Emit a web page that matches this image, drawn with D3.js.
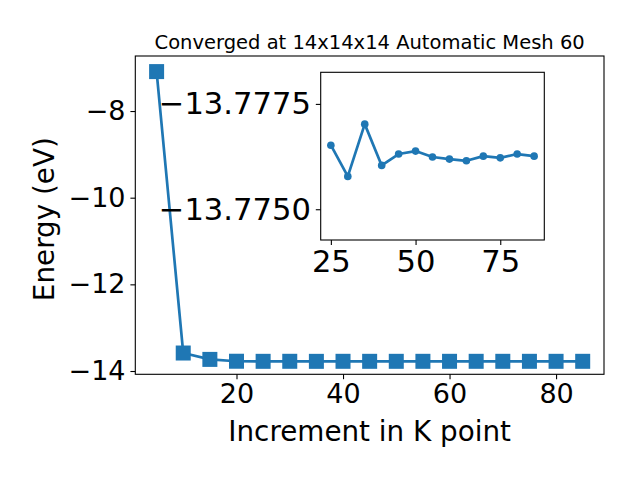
<!DOCTYPE html>
<html>
<head>
<meta charset="utf-8">
<script src="https://cdn.jsdelivr.net/npm/d3@7"></script>
<style>
  html, body { margin: 0; padding: 0; background: #fff; }
  text { font-family: "DejaVu Sans", sans-serif; fill: #000; }
</style>
</head>
<body>
<svg id="chart" width="640" height="480"></svg>
<script>
// ---- data ----
const kPoints = [5, 10, 15, 20, 25, 30, 35, 40, 45, 50, 55, 60, 65, 70, 75, 80, 85];
const energies = [-7.09, -13.585, -13.732, -13.7745,
  -13.77652, -13.77578, -13.77702, -13.77604, -13.77631, -13.77638, -13.77624,
  -13.77619, -13.77615, -13.77626, -13.77622, -13.77631, -13.77626];
const insetStart = 25;
const mainXTicks = [20, 40, 60, 80];
const mainYTicks = [-14, -12, -10, -8];
const insetXTicks = [25, 50, 75];
const insetYTicks = [-13.7775, -13.7750];
const titleText = "Converged at 14x14x14 Automatic Mesh 60";
const xLabel = "Increment in K point";
const yLabel = "Energy (eV)";

const color = "#1f77b4";
const minus = s => s.replace(/-/g, "\u2212");

const svg = d3.select("#chart");
const data = kPoints.map((k, i) => ({ k, e: energies[i] }));
const insetData = data.filter(d => d.k >= insetStart);

// ---- main axes ----
const M = { left: 135.3, right: 604, top: 56, bottom: 374.3 };
const x = d3.scaleLinear().domain([1, 89]).range([M.left, M.right]);
const y = d3.scaleLinear().domain([-14.076, -6.73]).range([M.bottom, M.top]);

const main = svg.append("g");
main.append("rect").attr("x", M.left).attr("y", M.top)
  .attr("width", M.right - M.left).attr("height", M.bottom - M.top).attr("fill", "#fff");

const line = d3.line().x(d => x(d.k)).y(d => y(d.e));
main.append("path").datum(data).attr("d", line)
  .attr("fill", "none").attr("stroke", color).attr("stroke-width", 2.7).attr("stroke-linejoin", "round");
const sq = 15;
main.selectAll("rect.pt").data(data).enter().append("rect").attr("class", "pt")
  .attr("x", d => x(d.k) - sq / 2).attr("y", d => y(d.e) - sq / 2)
  .attr("width", sq).attr("height", sq).attr("fill", color);

const tickLen = 4.9, tickPad = 4.9;
const gx = main.append("g").attr("transform", `translate(0,${M.bottom})`)
  .call(d3.axisBottom(x).tickValues(mainXTicks).tickSize(tickLen).tickPadding(tickPad).tickSizeOuter(0));
const gy = main.append("g").attr("transform", `translate(${M.left},0)`)
  .call(d3.axisLeft(y).tickValues(mainYTicks).tickFormat(d => minus(String(d))).tickSize(tickLen).tickPadding(tickPad).tickSizeOuter(0));
[gx, gy].forEach(g => {
  g.select(".domain").remove();
  g.selectAll("line").attr("stroke", "#000").attr("stroke-width", 1.1);
  g.selectAll("text").attr("font-size", 27).attr("font-family", "DejaVu Sans");
});

main.append("rect").attr("x", M.left).attr("y", M.top)
  .attr("width", M.right - M.left).attr("height", M.bottom - M.top)
  .attr("fill", "none").attr("stroke", "#000").attr("stroke-width", 1.1);

// title & labels
svg.append("text").attr("x", (M.left + M.right) / 2).attr("y", 49)
  .attr("text-anchor", "middle").attr("font-size", 19.5).text(titleText);
svg.append("text").attr("x", (M.left + M.right) / 2).attr("y", 441)
  .attr("text-anchor", "middle").attr("font-size", 27.8).text(xLabel);
svg.append("text").attr("transform", `translate(54,${(M.top + M.bottom) / 2 + 4}) rotate(-90)`)
  .attr("text-anchor", "middle").attr("font-size", 27.8).text(yLabel);

// ---- inset axes ----
const I = { left: 320.7, right: 544.3, top: 72.3, bottom: 240 };
const xi = d3.scaleLinear().domain([22, 88]).range([I.left, I.right]);
const yi = d3.scaleLinear().domain([-13.77825, -13.77427]).range([I.top, I.bottom]);

const inset = svg.append("g");
inset.append("rect").attr("x", I.left).attr("y", I.top)
  .attr("width", I.right - I.left).attr("height", I.bottom - I.top).attr("fill", "#fff");
const lineI = d3.line().x(d => xi(d.k)).y(d => yi(d.e));
inset.append("path").datum(insetData).attr("d", lineI)
  .attr("fill", "none").attr("stroke", color).attr("stroke-width", 2.7).attr("stroke-linejoin", "round");
inset.selectAll("circle").data(insetData).enter().append("circle")
  .attr("cx", d => xi(d.k)).attr("cy", d => yi(d.e)).attr("r", 3.8).attr("fill", color);

const gxi = inset.append("g").attr("transform", `translate(0,${I.bottom})`)
  .call(d3.axisBottom(xi).tickValues(insetXTicks).tickSize(tickLen).tickPadding(tickPad).tickSizeOuter(0));
const gyi = inset.append("g").attr("transform", `translate(${I.left},0)`)
  .call(d3.axisLeft(yi).tickValues(insetYTicks).tickFormat(d => minus(d.toFixed(4))).tickSize(tickLen).tickPadding(tickPad).tickSizeOuter(0));
[gxi, gyi].forEach(g => {
  g.select(".domain").remove();
  g.selectAll("line").attr("stroke", "#000").attr("stroke-width", 1.1);
  g.selectAll("text").attr("font-size", 30.6).attr("font-family", "DejaVu Sans");
});
inset.append("rect").attr("x", I.left).attr("y", I.top)
  .attr("width", I.right - I.left).attr("height", I.bottom - I.top)
  .attr("fill", "none").attr("stroke", "#000").attr("stroke-width", 1.1);
</script>
</body>
</html>
